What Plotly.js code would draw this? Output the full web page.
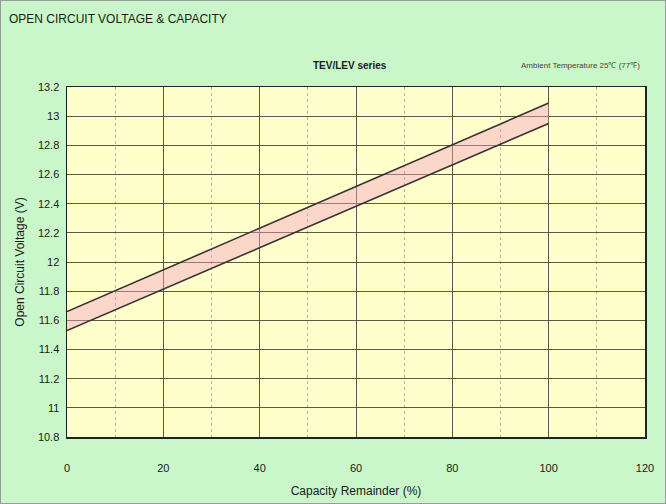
<!DOCTYPE html>
<html><head><meta charset="utf-8">
<script src="https://cdn.plot.ly/plotly-3.0.1.min.js"></script>
<style>
html,body{margin:0;padding:0;background:#c9f7c9;}
#wrap{width:664px;height:502px;border:1px solid #9a9a9a;}
#chart{width:664px;height:502px;}
</style></head>
<body><div id="wrap"><div id="chart"></div></div>
<script>
const capacity = [0, 100];
const upperVoltage = [11.66, 13.09];
const lowerVoltage = [11.53, 12.95];
const xTicks = [0, 20, 40, 60, 80, 100, 120];
const yTicks = [10.8, 11, 11.2, 11.4, 11.6, 11.8, 12, 12.2, 12.4, 12.6, 12.8, 13, 13.2];
const yTickText = ['10.8','11','11.2','11.4','11.6','11.8','12','12.2','12.4','12.6','12.8','13','13.2'];

const lineStyle = {color:'#3a3232', width:1.6};
const traces = [
  {x: capacity, y: lowerVoltage, mode:'lines', line: lineStyle, hoverinfo:'skip', showlegend:false},
  {x: capacity, y: upperVoltage, mode:'lines', line: lineStyle, fill:'tonexty', fillcolor:'rgba(245,160,200,0.42)', hoverinfo:'skip', showlegend:false}
];
const font = {family:'Arial, Liberation Sans, sans-serif', color:'#1a1a1a'};
const layout = {
  width:664, height:502,
  margin:{l:66, r:20, t:86, b:66},
  paper_bgcolor:'#c9f7c9', plot_bgcolor:'#ffffcc',
  font: Object.assign({size:11}, font),
  title:{text:'OPEN CIRCUIT VOLTAGE &amp; CAPACITY', x:0.012, xanchor:'left', y:0.965, yanchor:'middle', font:Object.assign({size:12}, font)},
  xaxis:{range:[0,120], tickvals:xTicks, ticktext:xTicks.map(String), showgrid:true, gridcolor:'#5a5a4a', gridwidth:1,
    zeroline:false, showline:true, linecolor:'#222', linewidth:1.5, mirror:true, ticks:'', ticklabelstandoff:20,
    minor:{dtick:10, tick0:0, showgrid:true, gridcolor:'#b0b0a0', griddash:'dot', gridwidth:1, ticks:''},
    title:{text:'Capacity Remainder (%)', standoff:14, font:Object.assign({size:12}, font)}},
  yaxis:{range:[10.8,13.2], tickvals:yTicks, ticktext:yTickText, showgrid:true, gridcolor:'#5a5a4a', gridwidth:1,
    zeroline:false, showline:true, linecolor:'#222', linewidth:1.5, mirror:true, ticks:'', ticklabelstandoff:4,
    title:{text:'Open Circuit Voltage (V)', standoff:10, font:Object.assign({size:12}, font)}},
  annotations:[
    {text:'<b>TEV/LEV series</b>', xref:'paper', yref:'paper', x:0.49, y:1.06, xanchor:'center', yanchor:'middle', showarrow:false, font:Object.assign({size:10}, font)},
    {text:'Ambient Temperature 25℃ (77℉)', xref:'paper', yref:'paper', x:0.995, y:1.06, xanchor:'right', yanchor:'middle', showarrow:false, font:{family:'Arial, Liberation Sans, sans-serif', size:8, color:'#444'}}
  ]
};
Plotly.newPlot('chart', traces, layout, {displayModeBar:false, staticPlot:true});
</script></body></html>
